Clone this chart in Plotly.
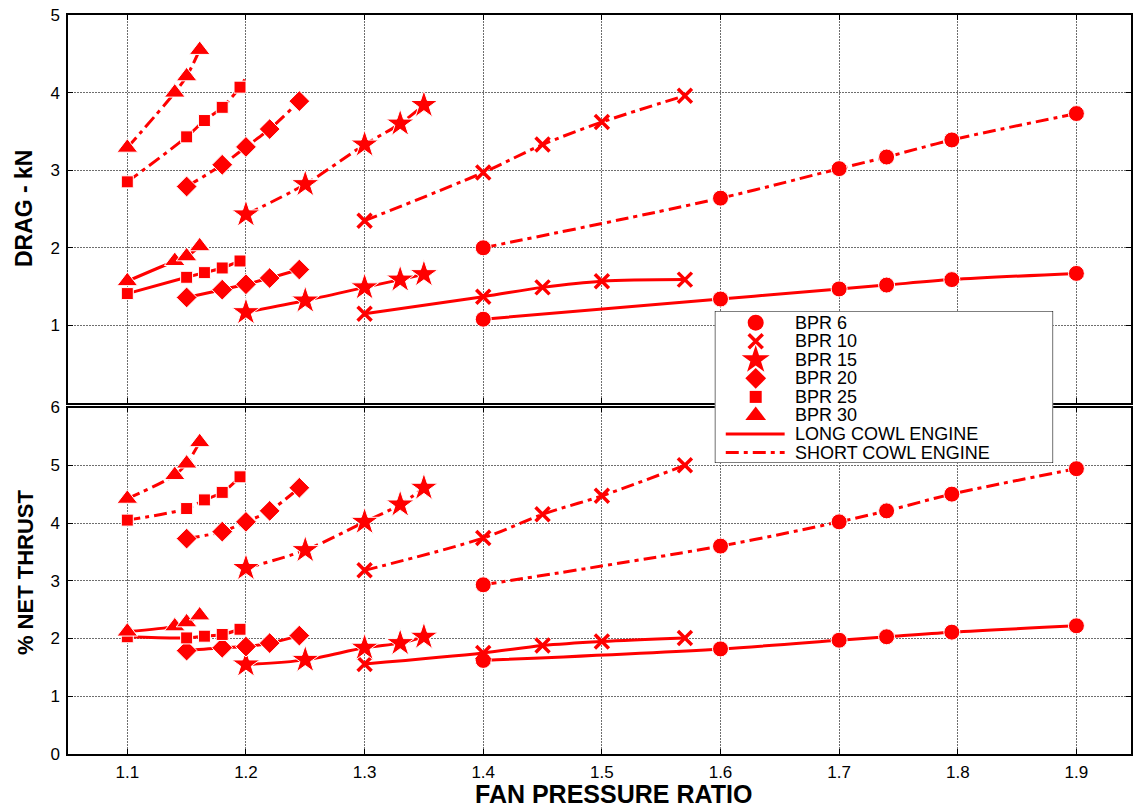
import plotly.graph_objects as go

# ---------------- data ----------------
# Fan pressure ratio at which each bypass ratio (BPR) was evaluated
fpr_6 = [1.4, 1.6, 1.7, 1.74, 1.795, 1.9]
fpr_10 = [1.3, 1.4, 1.45, 1.5, 1.57]
fpr_15 = [1.2, 1.25, 1.3, 1.33, 1.35]
fpr_20 = [1.15, 1.18, 1.2, 1.22, 1.245]
fpr_25 = [1.1, 1.15, 1.165, 1.18, 1.195]
fpr_30 = [1.1, 1.14, 1.15, 1.161]
# the BPR 25 short cowl curve runs on to FPR 1.2 past its last computed point
fpr_25_short_end = 1.2

# Nacelle drag, kN
drag_long_6 = [1.08, 1.34, 1.47, 1.52, 1.59, 1.67]
drag_short_6 = [2.00, 2.64, 3.02, 3.17, 3.39, 3.73]
drag_long_10 = [1.15, 1.37, 1.49, 1.57, 1.59]
drag_short_10 = [2.35, 2.97, 3.33, 3.62, 3.96]
drag_long_15 = [1.17, 1.32, 1.49, 1.59, 1.66]
drag_short_15 = [2.43, 2.82, 3.33, 3.60, 3.84]
drag_long_20 = [1.36, 1.46, 1.53, 1.61, 1.72]
drag_short_20 = [2.79, 3.07, 3.30, 3.53, 3.89]
drag_long_25 = [1.41, 1.62, 1.68, 1.74, 1.83]
drag_short_25 = [2.85, 3.43, 3.64, 3.81, 4.07, 4.20]
drag_long_30 = [1.57, 1.83, 1.89, 2.02]
drag_short_30 = [3.29, 4.00, 4.21, 4.55]

# Drag as a percentage of net thrust
thrust_long_6 = [1.62, 1.82, 1.97, 2.03, 2.11, 2.22]
thrust_short_6 = [2.93, 3.60, 4.02, 4.21, 4.50, 4.94]
thrust_long_10 = [1.56, 1.75, 1.88, 1.95, 2.01]
thrust_short_10 = [3.18, 3.74, 4.15, 4.47, 5.00]
thrust_long_15 = [1.55, 1.63, 1.84, 1.92, 2.03]
thrust_short_15 = [3.22, 3.53, 4.02, 4.32, 4.61]
thrust_long_20 = [1.79, 1.84, 1.86, 1.92, 2.05]
thrust_short_20 = [3.73, 3.85, 4.02, 4.21, 4.61]
thrust_long_25 = [2.03, 2.01, 2.04, 2.07, 2.16]
thrust_short_25 = [4.05, 4.25, 4.40, 4.53, 4.80, 4.93]
thrust_long_30 = [2.12, 2.21, 2.28, 2.40]
thrust_short_30 = [4.42, 4.83, 5.03, 5.40]

x_ticks = [1.1, 1.2, 1.3, 1.4, 1.5, 1.6, 1.7, 1.8, 1.9]
legend_labels = ["BPR 6", "BPR 10", "BPR 15", "BPR 20", "BPR 25", "BPR 30"]
cowl_labels = ["LONG COWL ENGINE", "SHORT COWL ENGINE"]

# ---------------- styling ----------------
RED = "#ff0000"
FONT = "Liberation Sans, Arial, sans-serif"
DASHDOT = "13px,5px,4px,5px"
GRID = "#6e6e6e"

symbols = {
    "BPR 6": dict(symbol="circle", size=16),
    "BPR 10": dict(symbol="x-thin", size=14, line=dict(width=3.5, color=RED)),
    "BPR 15": dict(symbol="star", size=21),
    "BPR 20": dict(symbol="diamond", size=16),
    "BPR 25": dict(symbol="square", size=12),
    "BPR 30": dict(symbol="triangle-up", size=18),
}

series = [
    ("BPR 6", fpr_6, drag_long_6, drag_short_6, thrust_long_6, thrust_short_6),
    ("BPR 10", fpr_10, drag_long_10, drag_short_10, thrust_long_10, thrust_short_10),
    ("BPR 15", fpr_15, drag_long_15, drag_short_15, thrust_long_15, thrust_short_15),
    ("BPR 20", fpr_20, drag_long_20, drag_short_20, thrust_long_20, thrust_short_20),
    ("BPR 25", fpr_25, drag_long_25, drag_short_25, thrust_long_25, thrust_short_25),
    ("BPR 30", fpr_30, drag_long_30, drag_short_30, thrust_long_30, thrust_short_30),
]

fig = go.Figure()


def add_curve(x, y, name, dash, xa, ya):
    n_marks = len(x)
    xs = list(x)
    if len(y) > len(x):
        xs = xs + [fpr_25_short_end]
    m = dict(symbols[name])
    m["color"] = RED
    m["opacity"] = 1
    sizes = [m["size"]] * n_marks + [0] * (len(xs) - n_marks)
    m["size"] = sizes
    fig.add_trace(go.Scatter(
        x=xs, y=y, mode="lines+markers", xaxis=xa, yaxis=ya,
        line=dict(color=RED, width=3, dash=dash, shape="spline", smoothing=0.9),
        marker=m, showlegend=False, hoverinfo="skip", cliponaxis=False,
    ))


for name, fx, dl, ds, tl, ts in series:
    add_curve(fx, dl, name, "solid", "x2", "y2")
    add_curve(fx, ds, name, DASHDOT, "x2", "y2")
    add_curve(fx, tl, name, "solid", "x", "y")
    add_curve(fx, ts, name, DASHDOT, "x", "y")

# ---------------- key box (own overlay axes, pixel units) ----------------
W, H = 1133, 807
ML, MR, MT, MB = 68, 0, 15, 53
PW, PH = W - ML - MR, H - MT - MB
BOX_L, BOX_R, BOX_T, BOX_B = 716, 1055, 311, 463
bw, bh = BOX_R - BOX_L, BOX_B - BOX_T

fig.add_trace(go.Scatter(
    x=[0, bw, bw, 0, 0], y=[0, 0, bh, bh, 0], mode="lines", fill="toself",
    fillcolor="white", line=dict(color="black", width=1.2),
    xaxis="x3", yaxis="y3", showlegend=False, hoverinfo="skip",
))

row0, row_step = 11.7, 18.55
sym_x, line_x0, line_x1, text_x = 41, 11, 70, 78
for i, lab in enumerate(legend_labels):
    yy = bh - (row0 + i * row_step)
    m = dict(symbols[lab])
    m["color"] = RED
    m["opacity"] = 1
    fig.add_trace(go.Scatter(
        x=[sym_x], y=[yy], mode="markers", marker=m, xaxis="x3", yaxis="y3",
        showlegend=False, hoverinfo="skip", cliponaxis=False,
    ))
    fig.add_annotation(x=text_x, y=yy, xref="x3", yref="y3", text=lab,
                       showarrow=False, xanchor="left", yanchor="middle",
                       font=dict(family=FONT, size=18, color="black"))
for j, (lab, dash) in enumerate(zip(cowl_labels, ["solid", DASHDOT])):
    yy = bh - (row0 + (6 + j) * row_step)
    fig.add_trace(go.Scatter(
        x=[line_x0, line_x1], y=[yy, yy], mode="lines",
        line=dict(color=RED, width=3, dash=dash), xaxis="x3", yaxis="y3",
        showlegend=False, hoverinfo="skip", cliponaxis=False,
    ))
    fig.add_annotation(x=text_x, y=yy, xref="x3", yref="y3", text=lab,
                       showarrow=False, xanchor="left", yanchor="middle",
                       font=dict(family=FONT, size=18, color="black"))

# ---------------- axes ----------------
bot_top_px, top_bot_px = 407.5, 403
dom_bot = [0, (MT + PH - bot_top_px) / PH]
dom_top = [(MT + PH - top_bot_px) / PH, 1]
x_range = [1.05, 1.05 + (W - ML) / 1188.6 * 0.1 * 10]

common_x = dict(
    range=x_range, tickvals=x_ticks, ticks="inside", ticklen=5, tickcolor="black",
    showline=True, linecolor="black", linewidth=1.5, mirror="allticks",
    showgrid=True, gridcolor=GRID, griddash="2px,1px", gridwidth=1,
    zeroline=False, tickfont=dict(family=FONT, size=17, color="black"),
)
common_y = dict(
    ticks="inside", ticklen=5, tickcolor="black",
    showline=True, linecolor="black", linewidth=1.5, mirror="allticks",
    showgrid=True, gridcolor=GRID, griddash="2px,1px", gridwidth=1,
    zeroline=False, tickfont=dict(family=FONT, size=17, color="black"),
    ticklabelstandoff=3,
)

fig.update_layout(
    width=W, height=H,
    margin=dict(l=ML, r=MR, t=MT, b=MB, pad=0),
    paper_bgcolor="white", plot_bgcolor="white",
    showlegend=False,
    xaxis=dict(common_x, anchor="y", domain=[0, 1],
               tickformat=".1f", ticklabelstandoff=2),
    yaxis=dict(common_y, anchor="x", domain=dom_bot, range=[0, 6],
               tickvals=[0, 1, 2, 3, 4, 5, 6]),
    xaxis2=dict(common_x, anchor="y2", domain=[0, 1], matches="x",
                showticklabels=False),
    yaxis2=dict(common_y, anchor="x2", domain=dom_top, range=[0, 5],
                tickvals=[1, 2, 3, 4, 5]),
    xaxis3=dict(domain=[(BOX_L - ML) / PW, (BOX_R - ML) / PW], range=[0, bw],
                visible=False, anchor="y3", fixedrange=True),
    yaxis3=dict(domain=[(MT + PH - BOX_B) / PH, (MT + PH - BOX_T) / PH],
                range=[0, bh], visible=False, anchor="x3", fixedrange=True),
    font=dict(family=FONT, color="black"),
)

# axis titles
fig.add_annotation(text="<b>FAN PRESSURE RATIO</b>", xref="paper", yref="paper",
                   x=(615 - ML) / PW, y=-(794 - (MT + PH)) / PH, showarrow=False,
                   xanchor="center", yanchor="middle",
                   font=dict(family=FONT, size=25, color="black"))
fig.add_annotation(text="<b>DRAG - kN</b>", xref="paper", yref="paper",
                   x=(24 - ML) / PW, y=(MT + PH - 208) / PH, showarrow=False,
                   textangle=-90, xanchor="center", yanchor="middle",
                   font=dict(family=FONT, size=23, color="black"))
fig.add_annotation(text="<b>% NET THRUST</b>", xref="paper", yref="paper",
                   x=(25 - ML) / PW, y=(MT + PH - 572) / PH, showarrow=False,
                   textangle=-90, xanchor="center", yanchor="middle",
                   font=dict(family=FONT, size=22, color="black"))

fig.write_html("out.html")
